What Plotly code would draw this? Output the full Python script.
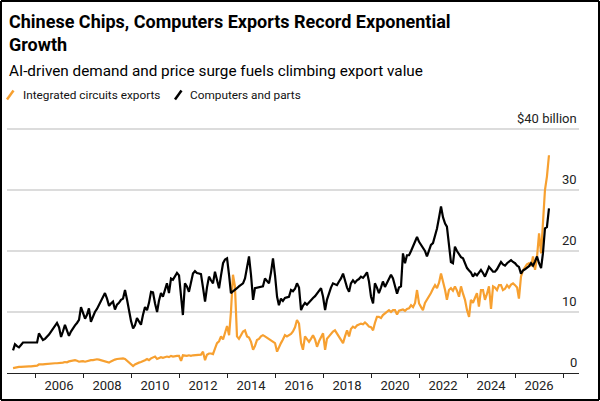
import pandas as pd
import plotly.graph_objects as go

# Monthly values, $ billion (Feb 2004 - Jun 2026)
dates = pd.date_range("2004-02-01", "2026-06-01", freq="MS")

computers = [
    # 2004 (Feb-Dec)
    3.7, 4.7, 4.4, 4.2, 4.6, 5.0, 5.0, 5.0, 5.0, 5.0, 5.0,
    # 2005
    5.0, 5.0, 6.5, 6.0, 5.4, 5.6, 5.9, 6.3, 6.8, 7.2, 7.7, 8.2,
    # 2006
    7.5, 5.9, 6.8, 7.9, 7.0, 6.1, 6.8, 7.4, 7.8, 8.2, 8.7, 10.8,
    # 2007
    10.0, 8.9, 9.5, 10.6, 8.4, 9.3, 10.0, 10.5, 11.2, 12.0, 12.6, 13.1,
    # 2008
    12.2, 11.0, 11.4, 11.7, 10.4, 11.2, 11.5, 12.0, 12.2, 13.6, 12.0, 10.0,
    # 2009
    8.5, 7.3, 7.8, 9.0, 8.5, 7.9, 9.5, 10.8, 10.3, 11.5, 13.3, 13.2,
    # 2010
    11.4, 10.0, 11.8, 13.1, 12.5, 13.5, 14.7, 13.1, 15.5, 15.3, 15.8, 16.4,
    # 2011
    16.0, 12.5, 9.5, 14.7, 14.2, 13.3, 15.0, 16.3, 16.7, 16.4, 16.3, 16.2,
    # 2012
    14.0, 11.7, 14.0, 15.8, 15.2, 14.7, 16.6, 15.0, 13.9, 16.0, 18.0, 18.6,
    # 2013
    18.8, 16.0, 13.1, 13.4, 13.6, 13.9, 14.2, 14.5, 14.7, 15.5, 17.5, 19.1,
    # 2014
    16.0, 12.0, 13.9, 14.0, 14.1, 14.2, 14.2, 15.5, 15.0, 14.7, 16.5, 18.8,
    # 2015
    16.0, 12.5, 11.1, 12.2, 11.8, 12.3, 12.4, 12.5, 13.6, 13.4, 13.8, 14.7,
    # 2016
    14.0, 10.3, 11.0, 11.5, 11.2, 11.6, 12.0, 12.3, 12.6, 13.0, 13.6, 13.9,
    # 2017
    12.5, 10.3, 12.0, 13.1, 14.0, 14.7, 14.5, 14.4, 15.0, 15.5, 16.3, 15.0,
    # 2018
    14.0, 13.3, 14.7, 15.2, 14.8, 15.2, 15.4, 15.8, 15.6, 16.0, 16.5, 15.0,
    # 2019
    12.5, 11.4, 14.7, 14.0, 13.1, 14.0, 15.0, 14.1, 14.8, 15.5, 16.1, 15.5,
    # 2020
    14.4, 13.0, 14.0, 14.2, 19.6, 18.0, 19.3, 19.3, 20.0, 20.8, 21.5, 22.3,
    # 2021
    21.5, 21.0, 20.7, 20.0, 19.1, 20.0, 21.0, 21.3, 22.5, 23.7, 25.5, 27.3,
    # 2022
    25.5, 24.5, 24.0, 21.0, 18.2, 18.0, 20.7, 20.0, 19.5, 19.0, 18.8, 18.0,
    # 2023
    17.2, 16.8, 16.5, 15.8, 16.3, 16.0, 16.5, 16.9, 16.4, 15.8, 16.6, 17.4,
    # 2024
    17.0, 16.6, 16.6, 17.0, 17.6, 18.2, 17.8, 17.6, 18.0, 18.2, 18.5, 18.2,
    # 2025
    18.0, 17.6, 17.4, 16.3, 16.8, 17.0, 17.2, 17.5, 18.0, 17.6, 18.3, 19.1,
    # 2026 (Jan-Jun)
    18.0, 17.2, 19.6, 23.7, 23.9, 27.0,
]

chips = [
    # 2004 (Feb-Dec)
    0.8, 0.9, 1.0, 1.0, 1.0, 1.05, 1.1, 1.1, 1.1, 1.1, 1.15,
    # 2005
    1.15, 1.2, 1.4, 1.35, 1.4, 1.45, 1.5, 1.45, 1.5, 1.55, 1.6, 1.6,
    # 2006
    1.6, 1.65, 1.7, 1.8, 1.75, 1.9, 2.0, 2.1, 2.1, 2.0, 1.85, 1.9,
    # 2007
    1.95, 1.85, 1.95, 2.0, 2.1, 2.1, 2.2, 2.25, 2.2, 2.1, 2.0, 1.9,
    # 2008
    1.8, 1.7, 1.9, 2.1, 2.2, 2.3, 2.35, 2.4, 2.4, 2.3, 2.0, 1.6,
    # 2009
    1.3, 1.15, 1.4, 1.6, 1.7, 1.8, 1.9, 2.1, 2.3, 2.1, 2.4, 2.5,
    # 2010
    2.7, 2.3, 2.5, 2.6, 2.5, 2.6, 2.7, 2.6, 2.8, 2.7, 2.8, 2.8,
    # 2011
    2.8, 2.0, 2.9, 2.8, 2.8, 2.9, 2.8, 2.9, 2.9, 3.0, 2.9, 3.0,
    # 2012
    3.5, 2.1, 3.0, 3.2, 3.2, 3.1, 4.0, 4.9, 5.2, 6.0, 5.5, 6.5,
    # 2013
    7.7, 6.2, 10.0, 16.1, 14.2, 6.0, 5.6, 6.2, 6.8, 7.0, 6.0, 5.8,
    # 2014
    5.1, 3.8, 4.4, 5.4, 5.6, 6.0, 6.2, 6.0, 5.8, 5.6, 5.4, 5.2,
    # 2015
    4.9, 3.5, 4.3, 4.9, 5.5, 6.2, 6.0, 6.2, 6.4, 6.8, 7.5, 8.7,
    # 2016
    8.1, 4.9, 3.8, 6.0, 5.6, 5.1, 5.6, 6.2, 5.5, 4.3, 5.2, 6.0,
    # 2017
    6.5, 3.8, 5.6, 6.0, 6.5, 6.8, 7.0, 6.5, 6.0, 5.5, 4.9, 6.0,
    # 2018
    7.0, 6.0, 7.2, 7.6, 7.4, 7.8, 8.0, 8.1, 8.0, 8.3, 8.0, 7.6,
    # 2019
    7.5, 7.0, 8.2, 9.2, 9.2, 9.0, 9.5, 9.8, 10.0, 10.3, 10.0, 10.3,
    # 2020
    10.3, 9.6, 10.2, 10.3, 10.4, 10.2, 10.5, 10.6, 11.1, 10.8, 11.5, 13.6,
    # 2021
    11.4, 10.8, 10.3, 11.5, 12.0, 12.5, 13.1, 13.8, 14.4, 13.9, 14.8, 16.3,
    # 2022
    15.0, 13.6, 12.0, 13.6, 13.9, 13.5, 14.2, 13.5, 12.5, 14.2, 13.0, 12.0,
    # 2023
    10.3, 9.2, 12.0, 11.5, 12.3, 13.1, 10.9, 13.6, 13.6, 12.0, 13.0, 14.2,
    # 2024
    10.5, 14.2, 14.0, 13.6, 14.4, 14.4, 13.6, 13.8, 14.4, 14.0, 14.5, 14.7,
    # 2025
    14.4, 14.0, 12.2, 15.8, 16.8, 17.4, 17.8, 18.0, 17.5, 19.1, 16.9, 19.0,
    # 2026 (Jan-Jun)
    22.9, 19.6, 25.5, 30.0, 32.2, 35.7,
]

even_years = list(range(2006, 2027, 2))
odd_years = list(range(2005, 2028, 2))
y_ticks = [0, 10, 20, 30, 40]
y_labels = ["0", "10", "20", "30", "$40 billion"]

ORANGE = "#F7A030"
GRID = "#dcdcdc"
FONT = "Roboto, Arial, sans-serif"
X_RANGE = ["2003-11-01", "2027-09-01"]

W, H = 600, 401
L, R, T, B = 7, 21, 112, 28
pw, ph = W - L - R, H - T - B
Y_TOP = (H - B - T) / 6.1  # 6.1 px per $1bn, so 40 sits at y=129px


def px(x):
    return (x - L) / pw


def py(y):
    return (H - B - y) / ph


fig = go.Figure()

# Horizontal gridlines drawn as faint line traces spanning the x range
for v in y_ticks[1:]:
    fig.add_trace(go.Scatter(x=X_RANGE, y=[v, v], mode="lines",
                             line=dict(color=GRID, width=2),
                             hoverinfo="skip", showlegend=False, cliponaxis=False))

fig.add_trace(go.Scatter(x=dates, y=chips, mode="lines",
                         line=dict(color=ORANGE, width=2.2),
                         name="Integrated circuits exports"))
fig.add_trace(go.Scatter(x=dates, y=computers, mode="lines",
                         line=dict(color="#000000", width=2.2),
                         name="Computers and parts"))

fig.update_layout(
    width=W, height=H,
    margin=dict(l=L, r=R, t=T, b=B, pad=0),
    paper_bgcolor="white", plot_bgcolor="white",
    showlegend=False,
    font=dict(family=FONT, color="#222"),
)

fig.update_xaxes(
    type="date",
    range=X_RANGE,
    tickmode="array",
    tickvals=[f"{y}-01-01" for y in even_years],
    ticktext=[str(y) for y in even_years],
    ticks="",
    tickfont=dict(size=13, color="#222"),
    showgrid=False,
    showline=True, linecolor="#222", linewidth=1,
    zeroline=False,
    minor=dict(tickmode="array",
               tickvals=[f"{y}-01-01" for y in odd_years],
               ticks="outside", ticklen=4, tickcolor="#222", tickwidth=1,
               showgrid=False),
)

fig.update_yaxes(
    side="right",
    range=[0, Y_TOP],
    tickmode="array",
    tickvals=y_ticks,
    showticklabels=False,
    ticks="",
    showgrid=False,
    zeroline=False,
    showline=False,
)

# Y tick labels sitting just above their gridlines, right-aligned
for v, lab in zip(y_ticks, y_labels):
    fig.add_annotation(xref="paper", yref="y", x=1.0, y=v,
                       xanchor="right", yanchor="bottom", yshift=1,
                       showarrow=False, text=lab,
                       font=dict(size=13, color="#222", family=FONT))

# Title, subtitle
fig.add_annotation(xref="paper", yref="paper", x=px(7), y=py(9),
                   xanchor="left", yanchor="top", align="left", showarrow=False,
                   text="<b>Chinese Chips, Computers Exports Record Exponential<br>Growth</b>",
                   font=dict(size=18, color="#000", family=FONT))
fig.add_annotation(xref="paper", yref="paper", x=px(7), y=py(70.5),
                   xanchor="left", yanchor="middle", showarrow=False,
                   text="AI-driven demand and price surge fuels climbing export value",
                   font=dict(size=15.3, color="#000", family=FONT))

# Custom legend
fig.add_shape(type="line", xref="paper", yref="paper",
              x0=px(7), y0=py(99.5), x1=px(13.5), y1=py(90.5),
              line=dict(color=ORANGE, width=2.5))
fig.add_annotation(xref="paper", yref="paper", x=px(21), y=py(94.5),
                   xanchor="left", yanchor="middle", showarrow=False,
                   text="Integrated circuits exports",
                   font=dict(size=11.8, color="#111", family=FONT))
fig.add_shape(type="line", xref="paper", yref="paper",
              x0=px(175), y0=py(99.5), x1=px(181.5), y1=py(90.5),
              line=dict(color="#000", width=2.5))
fig.add_annotation(xref="paper", yref="paper", x=px(188), y=py(94.5),
                   xanchor="left", yanchor="middle", showarrow=False,
                   text="Computers and parts",
                   font=dict(size=11.8, color="#111", family=FONT))

# Outer frame: four separate edges (no filled rectangle)
for (x0, y0, x1, y1) in [(1, 1, 599, 1), (1, 400, 599, 400), (1, 1, 1, 400), (599, 1, 599, 400)]:
    fig.add_shape(type="line", xref="paper", yref="paper",
                  x0=px(x0), y0=py(y0), x1=px(x1), y1=py(y1),
                  line=dict(color="#000", width=2), layer="above")

fig.write_html("out.html")
